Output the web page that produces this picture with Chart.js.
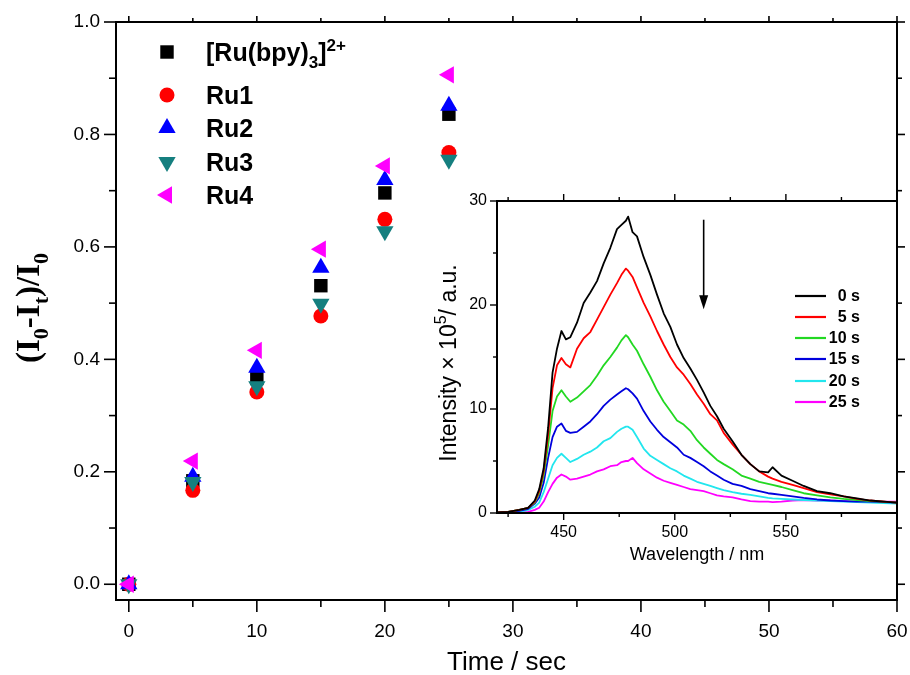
<!DOCTYPE html>
<html><head><meta charset="utf-8">
<script src="https://cdn.jsdelivr.net/npm/chart.js@4/dist/chart.umd.min.js"></script>
<style>
html,body{margin:0;padding:0;background:#fff;}
#wrap{position:relative;width:910px;height:675px;overflow:hidden;}
#main{position:absolute;left:0;top:0;}
#inset{position:absolute;left:400px;top:180px;}
</style></head><body>
<div id="wrap"><canvas id="main" width="910" height="675"></canvas><canvas id="inset" width="510" height="400"></canvas></div>
<script>
// ---------- main chart data ----------
const timeSec = [0, 5, 10, 15, 20, 25];
const seriesNames = ['[Ru(bpy)3]2+', 'Ru1', 'Ru2', 'Ru3', 'Ru4'];
const ruBpy = [0, 0.184, 0.366, 0.531, 0.696, 0.836];
const ru1   = [0, 0.167, 0.342, 0.477, 0.649, 0.768];
const ru2   = [0, 0.191, 0.385, 0.563, 0.719, 0.851];
const ru3   = [0, 0.182, 0.352, 0.499, 0.628, 0.755];
const ru4   = [0, 0.219, 0.416, 0.596, 0.744, 0.906];
const mainXTicks = [0, 10, 20, 30, 40, 50, 60];
const mainYTicks = [0, 0.2, 0.4, 0.6, 0.8, 1.0];

// ---------- inset data ----------
const wavelength = [420,425,430,434,437,439,441,443,445,447,449,451,453,456,459,462,465,468,471,474,476,478,479,481,483,486,489,492,495,498,501,504,507,510,513,516,519,522,526,530,534,538,542,544,548,553,558,564,570,576,582,588,594,600];
const spec0s  = [0.05,0.1,0.3,0.5,1.2, 2.3,4.3,8.2,13.5,15.8, 17.5,16.7,16.9,18.3,20.2, 21.2,22.3,24.0,25.5,27.3, 27.7,28.1,28.5,27.0,26.6, 24.6,22.9,21.0,19.2,17.9, 16.2,14.9,13.9,12.8,11.6, 10.3,9.3,8.1,6.9,5.6, 4.7,4.0,3.9,4.4,3.6, 3.1,2.6,2.1,1.9,1.6, 1.4,1.2,1.1,1.0];
const spec5s  = [0.05,0.1,0.3,0.5,1.1, 2.1,4.0,7.5,12.0,14.2, 14.9,14.3,14.0,15.8,16.8, 17.4,18.6,19.8,21.0,22.1, 22.9,23.5,23.3,22.7,21.7, 20.2,18.9,17.5,16.2,15.0, 14.0,13.3,12.4,11.4,10.5, 9.5,8.9,7.7,6.6,5.6, 4.7,4.0,3.5,3.3,3.0, 2.7,2.4,2.0,1.8,1.6, 1.35,1.2,1.1,1.0];
const spec10s = [0.05,0.1,0.3,0.5,1.0, 1.9,3.6,6.5,9.8,11.2, 11.8,11.2,10.7,11.1,11.7, 12.3,13.2,14.2,15.0,15.9, 16.6,17.1,16.9,16.2,15.6, 14.3,13.1,11.8,10.7,9.8, 8.9,8.5,7.9,7.0,6.3, 5.7,5.1,4.7,4.2,3.6, 3.3,3.0,2.8,2.7,2.5, 2.2,1.9,1.7,1.5,1.35, 1.25,1.15,1.1,1.0];
const spec15s = [0.05,0.1,0.2,0.4,0.9, 1.5,2.9,5.3,7.3,8.3, 8.6,7.9,7.7,7.8,8.3, 8.8,9.5,10.3,10.9,11.4, 11.7,12.0,11.9,11.5,11.0, 9.8,8.8,8.0,7.3,6.8, 6.3,5.6,5.3,4.9,4.5, 4.0,3.6,3.2,2.8,2.6, 2.3,2.1,1.9,1.85,1.75, 1.6,1.45,1.3,1.2,1.15, 1.1,1.1,1.05,1.0];
const spec20s = [0.0,0.05,0.1,0.3,0.6, 1.0,2.0,3.3,4.6,5.3, 5.7,5.3,4.9,5.2,5.6, 5.9,6.3,6.9,7.2,7.8, 8.1,8.3,8.3,8.0,7.3, 6.2,5.5,5.1,4.7,4.3, 4.0,3.6,3.3,3.0,2.8, 2.6,2.4,2.2,2.0,1.85, 1.75,1.6,1.45,1.4,1.35, 1.3,1.25,1.2,1.15,1.1, 1.05,1.0,0.95,0.9];
const spec25s = [0.0,0.0,0.05,0.1,0.3, 0.5,1.1,2.0,2.8,3.4, 3.7,3.5,3.2,3.3,3.5, 3.7,4.0,4.2,4.5,4.6, 4.9,5.0,5.0,5.3,4.8, 4.2,3.8,3.4,3.1,2.9, 2.7,2.5,2.3,2.2,2.1, 1.9,1.7,1.6,1.5,1.3, 1.15,1.1,1.1,1.05,1.1, 1.2,1.25,1.2,1.2,1.15, 1.1,1.15,1.1,1.1];
const specLabels = ['0 s', '5 s', '10 s', '15 s', '20 s', '25 s'];
const insetXTicks = [450, 500, 550];
const insetYTicks = [0, 10, 20, 30];
const arrowAt = {x: 513, yFrom: 28.2, yTo: 19.6};

// ---------- styles ----------
const SANS = '"Liberation Sans", Arial, Helvetica, sans-serif';
const SERIF = '"Liberation Serif", "Times New Roman", serif';
const mainStyles = [
  {color:'#000000', style:'rect',     radius:9.5, rot:0},
  {color:'#ff0000', style:'circle',   radius:7.5, rot:0},
  {color:'#0000ff', style:'triangle', radius:10,  rot:0},
  {color:'#157f7f', style:'triangle', radius:10,  rot:180},
  {color:'#ff00ff', style:'triangle', radius:10,  rot:270}
];
const specColors = ['#000000', '#ff0000', '#22d822', '#0000dd', '#22e6ee', '#ff00ff'];
const richLabels = {'[Ru(bpy)3]2+': [['[Ru(bpy)',0],['3',-1],[']',0],['2+',1]]};

function drawRich(ctx, parts, x, y, size, weight, family, align) {
  const sub = Math.round(size*0.68);
  const fontFor = (lvl) => `${weight} ${lvl===0?size:sub}px ${family}`;
  let w = 0;
  parts.forEach(([t,l]) => { ctx.font = fontFor(l); w += ctx.measureText(t).width; });
  let cx = align === 'center' ? x - w/2 : x;
  ctx.textBaseline = 'alphabetic'; ctx.textAlign = 'left';
  parts.forEach(([t,l]) => {
    ctx.font = fontFor(l);
    const dy = l === -1 ? size*0.28 : (l === 1 ? -size*0.42 : 0);
    ctx.fillText(t, cx, y + dy);
    cx += ctx.measureText(t).width;
  });
  return w;
}
function seg(ctx, x1, y1, x2, y2) { ctx.beginPath(); ctx.moveTo(x1,y1); ctx.lineTo(x2,y2); ctx.stroke(); }
function zeroPad(s) { s.paddingLeft = 0; s.paddingRight = 0; s.paddingTop = 0; s.paddingBottom = 0; }

// ---------- main chart ----------
const mainSeries = [ruBpy, ru1, ru2, ru3, ru4];
const mainDatasets = mainSeries.map((arr, i) => ({
  label: seriesNames[i],
  data: timeSec.map((t, j) => ({x: t, y: arr[j]})),
  backgroundColor: mainStyles[i].color,
  borderColor: mainStyles[i].color,
  borderWidth: 0,
  pointStyle: mainStyles[i].style,
  pointRadius: mainStyles[i].radius,
  pointRotation: mainStyles[i].rot,
  showLine: false,
  order: mainSeries.length - i
}));

const mainDecor = {
  id: 'mainDecor',
  afterDraw(chart) {
    const {ctx, chartArea: a, scales: {x, y}} = chart;
    ctx.save();
    ctx.strokeStyle = '#000'; ctx.lineWidth = 1.6; ctx.lineCap = 'butt';
    for (let k = 0; k <= 10; k++) {
      const py = y.getPixelForValue(k/10);
      const L = k % 2 === 0 ? 12 : 7;
      seg(ctx, a.left - L, py, a.left, py);
      seg(ctx, a.right, py, a.right + (k%2===0?8:5), py);
    }
    for (let t = 0; t <= 60; t += 5) {
      const px = x.getPixelForValue(t);
      const L = t % 10 === 0 ? 12 : 7;
      seg(ctx, px, a.bottom, px, a.bottom + L);
      seg(ctx, px, a.top, px, a.top - (t%10===0?6:4));
    }
    ctx.lineWidth = 2;
    ctx.strokeRect(a.left, a.top, a.right - a.left, a.bottom - a.top);
    // legend
    const rows = [52, 95, 128, 162, 195];
    chart.data.datasets.forEach((ds, i) => {
      const ry = rows[i];
      ctx.fillStyle = ds.backgroundColor; ctx.strokeStyle = ds.borderColor;
      Chart.helpers.drawPoint(ctx, {pointStyle: ds.pointStyle, radius: ds.pointRadius, rotation: ds.pointRotation, borderWidth: 0}, 167, ry);
      ctx.fillStyle = '#000';
      const parts = richLabels[ds.label] || [[ds.label, 0]];
      drawRich(ctx, parts, 206, ry + 9, 25, 'bold', SANS, 'left');
    });
    // y title
    ctx.save();
    ctx.translate(39, 308);
    ctx.rotate(-Math.PI/2);
    ctx.fillStyle = '#000';
    drawRich(ctx, [['(I',0],['0',-1],['-I',0],['t',-1],[')/I',0],['0',-1]], 0, 0, 33, 'bold', SERIF, 'center');
    ctx.restore();
    ctx.restore();
  }
};

new Chart(document.getElementById('main'), {
  type: 'scatter',
  data: {datasets: mainDatasets},
  options: {
    responsive: false, animation: false, devicePixelRatio: 1,
    layout: {padding: {left: 0, right: 13, top: 22, bottom: 0}},
    plugins: {legend: {display: false}, tooltip: {enabled: false}},
    scales: {
      x: {
        type: 'linear', min: -1, max: 60,
        afterBuildTicks: s => { s.ticks = mainXTicks.map(v => ({value: v})); },
        afterFit: s => { s.height = 75; zeroPad(s); },
        grid: {display: false, drawTicks: false}, border: {display: false},
        ticks: {padding: 20, color: '#000', font: {family: SANS, size: 19}, maxRotation: 0, autoSkip: false, callback: v => String(v)},
        title: {display: true, text: 'Time / sec', color: '#000', font: {family: SANS, size: 26}, padding: {top: 0, bottom: -3}}
      },
      y: {
        type: 'linear', min: -0.028, max: 1.0,
        afterBuildTicks: s => { s.ticks = mainYTicks.map(v => ({value: v})); },
        afterFit: s => { s.width = 116; zeroPad(s); },
        grid: {display: false, drawTicks: false}, border: {display: false},
        ticks: {padding: 16, color: '#000', font: {family: SANS, size: 19}, autoSkip: false, callback: v => Number(v).toFixed(1)}
      }
    }
  },
  plugins: [mainDecor]
});

// ---------- inset chart ----------
const specSeries = [spec0s, spec5s, spec10s, spec15s, spec20s, spec25s];
const insetDatasets = specSeries.map((arr, i) => ({
  label: specLabels[i],
  data: wavelength.map((w, j) => ({x: w, y: arr[j]})),
  borderColor: specColors[i],
  backgroundColor: specColors[i],
  borderWidth: 1.8,
  pointRadius: 0,
  tension: 0,
  fill: false
}));

const insetDecor = {
  id: 'insetDecor',
  afterDraw(chart) {
    const {ctx, chartArea: a, scales: {x, y}} = chart;
    ctx.save();
    ctx.strokeStyle = '#000'; ctx.lineWidth = 1.4;
    for (let v = 0; v <= 30; v += 5) {
      const py = y.getPixelForValue(v);
      seg(ctx, a.left - (v % 10 === 0 ? 7 : 4), py, a.left, py);
    }
    for (let w = 425; w <= 600; w += 25) {
      const px = x.getPixelForValue(w);
      const L = (w % 50 === 0) ? 7 : 4;
      seg(ctx, px, a.bottom, px, a.bottom + L);
      seg(ctx, px, a.top, px, a.top - L);
    }
    ctx.lineWidth = 2;
    ctx.strokeRect(a.left, a.top, a.right - a.left, a.bottom - a.top);
    // arrow
    const ax = x.getPixelForValue(arrowAt.x);
    const ay1 = y.getPixelForValue(arrowAt.yFrom), ay2 = y.getPixelForValue(arrowAt.yTo);
    ctx.lineWidth = 1.6;
    seg(ctx, ax, ay1, ax, ay2 - 10);
    ctx.fillStyle = '#000';
    ctx.beginPath(); ctx.moveTo(ax, ay2); ctx.lineTo(ax - 4.5, ay2 - 14); ctx.lineTo(ax + 4.5, ay2 - 14); ctx.closePath(); ctx.fill();
    // legend
    const rows = [116, 137, 158, 179, 201, 222];
    chart.data.datasets.forEach((ds, i) => {
      ctx.strokeStyle = ds.borderColor; ctx.lineWidth = 2.2;
      seg(ctx, 395, rows[i], 426, rows[i]);
      ctx.fillStyle = '#000';
      ctx.font = `bold 16px ${SANS}`;
      ctx.textAlign = 'right'; ctx.textBaseline = 'middle';
      ctx.fillText(ds.label, 460, rows[i] + 1);
    });
    // y title
    ctx.save();
    ctx.translate(56, 183);
    ctx.rotate(-Math.PI/2);
    ctx.fillStyle = '#000';
    drawRich(ctx, [['Intensity \u00d7 10',0],['5',1],['/ a.u.',0]], 0, 0, 23, 'normal', SANS, 'center');
    ctx.restore();
    ctx.restore();
  }
};

new Chart(document.getElementById('inset'), {
  type: 'line',
  data: {datasets: insetDatasets},
  options: {
    responsive: false, animation: false, devicePixelRatio: 1,
    layout: {padding: {left: 0, right: 13, top: 21, bottom: 0}},
    plugins: {legend: {display: false}, tooltip: {enabled: false}},
    elements: {line: {borderJoinStyle: 'round'}},
    scales: {
      x: {
        type: 'linear', min: 420, max: 600,
        afterBuildTicks: s => { s.ticks = insetXTicks.map(v => ({value: v})); },
        afterFit: s => { s.height = 67; zeroPad(s); },
        grid: {display: false, drawTicks: false}, border: {display: false},
        ticks: {padding: 10, color: '#000', font: {family: SANS, size: 16}, maxRotation: 0, autoSkip: false, callback: v => String(v)},
        title: {display: true, text: 'Wavelength / nm', color: '#000', font: {family: SANS, size: 18}, padding: {top: 0, bottom: 14}}
      },
      y: {
        type: 'linear', min: 0, max: 30,
        afterBuildTicks: s => { s.ticks = insetYTicks.map(v => ({value: v})); },
        afterFit: s => { s.width = 97; zeroPad(s); },
        grid: {display: false, drawTicks: false}, border: {display: false},
        ticks: {padding: 10, color: '#000', font: {family: SANS, size: 16}, autoSkip: false, callback: v => String(v)}
      }
    }
  },
  plugins: [insetDecor]
});
</script>
</body></html>
